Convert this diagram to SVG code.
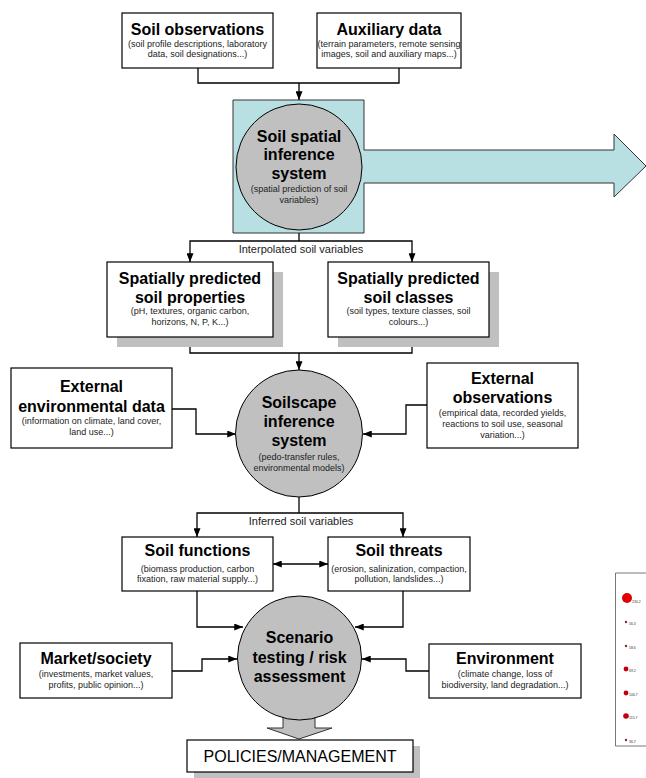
<svg xmlns="http://www.w3.org/2000/svg" width="646" height="778" viewBox="0 0 646 778">
<style>
.box{fill:#fff;stroke:#000;stroke-width:1.2}
.shadow{fill:#c0c0c0}
.circ{fill:#c0c0c0;stroke:#000;stroke-width:1}
.t{font-family:"Liberation Sans",Arial,sans-serif;font-weight:bold;font-size:16px;fill:#000;text-anchor:middle}
.s{font-family:"Liberation Sans",Arial,sans-serif;font-size:9px;fill:#222;text-anchor:middle}
.lbl{font-family:"Liberation Sans",Arial,sans-serif;font-size:11px;fill:#222;text-anchor:middle}
.pol{font-family:"Liberation Sans",Arial,sans-serif;font-size:16px;fill:#000;text-anchor:middle}
.c{fill:none;stroke:#000;stroke-width:1.3}
.leg{font-family:"Liberation Sans",Arial,sans-serif;font-size:3.5px;fill:#333}
</style>
<defs>
<marker id="ah" viewBox="0 0 10 8" refX="10" refY="4" markerWidth="9" markerHeight="7" markerUnits="userSpaceOnUse" orient="auto-start-reverse">
<path d="M0,0 L10,4 L0,8 Z" fill="#000"/>
</marker>
</defs>
<rect width="646" height="778" fill="#fff"/>

<g id="spatial-inference">
<path d="M233,100 H364 V150 H614 V134 L646,166 L614,197 V183 H364 V233 H233 Z" fill="#b8e0e3" stroke="#333" stroke-width="1"/>
<circle class="circ" cx="299" cy="167" r="63"/>
<text class="t" x="299" y="142">Soil spatial</text>
<text class="t" x="299" y="160">inference</text>
<text class="t" x="299" y="179">system</text>
<text class="s" x="299" y="192">(spatial prediction of soil</text>
<text class="s" x="299" y="203">variables)</text>
</g>

<g id="connectors">
<path class="c" d="M198,68 V83 H399 V68"/>
<path class="c" d="M299,83 V100" marker-end="url(#ah)"/>
<path class="c" d="M299,233 V241"/>
<path class="c" d="M190,262 V241 H412 V262" marker-start="url(#ah)" marker-end="url(#ah)"/>
<path class="c" d="M190,337 V353 H412 V337"/>
<path class="c" d="M299,353 V370" marker-end="url(#ah)"/>
<path class="c" d="M172,409 H196 V434 H236" marker-end="url(#ah)"/>
<path class="c" d="M427,405 H406 V434 H363" marker-end="url(#ah)"/>
<path class="c" d="M299,497 V513"/>
<path class="c" d="M197,537 V513 H403 V537" marker-start="url(#ah)" marker-end="url(#ah)"/>
<path class="c" d="M273,564 H328" marker-start="url(#ah)" marker-end="url(#ah)"/>
<path class="c" d="M197,591 V627 H243" marker-end="url(#ah)"/>
<path class="c" d="M403,591 V627 H355" marker-end="url(#ah)"/>
<path class="c" d="M172,671 H202 V659 H237" marker-end="url(#ah)"/>
<path class="c" d="M429,671 H406 V659 H362" marker-end="url(#ah)"/>
<text class="lbl" x="301" y="253">Interpolated soil variables</text>
<text class="lbl" x="301" y="525">Inferred soil variables</text>
</g>

<g id="soil-observations">
<rect class="box" x="122" y="13" width="151" height="55"/>
<text class="t" x="197.5" y="35">Soil observations</text>
<text class="s" x="197.5" y="47">(soil profile descriptions, laboratory</text>
<text class="s" x="197.5" y="57">data, soil designations...)</text>
</g>

<g id="auxiliary-data">
<rect class="box" x="317" y="13" width="144" height="55"/>
<text class="t" x="389" y="35">Auxiliary data</text>
<text class="s" x="389" y="47">(terrain parameters, remote sensing</text>
<text class="s" x="389" y="57">images, soil and auxiliary maps...)</text>
</g>

<g id="soil-properties">
<rect class="shadow" x="117" y="272" width="166" height="75"/>
<rect class="box" x="107" y="262" width="166" height="75"/>
<text class="t" x="190" y="284">Spatially predicted</text>
<text class="t" x="190" y="303">soil properties</text>
<text class="s" x="190" y="314">(pH, textures, organic carbon,</text>
<text class="s" x="190" y="325">horizons, N, P, K...)</text>
</g>

<g id="soil-classes">
<rect class="shadow" x="338" y="272" width="161" height="75"/>
<rect class="box" x="328" y="262" width="161" height="75"/>
<text class="t" x="408.5" y="284">Spatially predicted</text>
<text class="t" x="408.5" y="303">soil classes</text>
<text class="s" x="408.5" y="314">(soil types, texture classes, soil</text>
<text class="s" x="408.5" y="325">colours...)</text>
</g>

<g id="soilscape-inference">
<circle class="circ" cx="299" cy="433.5" r="63.5"/>
<text class="t" x="299" y="408">Soilscape</text>
<text class="t" x="299" y="427">inference</text>
<text class="t" x="299" y="446">system</text>
<text class="s" x="299" y="460">(pedo-transfer rules,</text>
<text class="s" x="299" y="471">environmental models)</text>
</g>

<g id="external-environmental-data">
<rect class="box" x="11" y="368" width="161" height="80"/>
<text class="t" x="91.5" y="392">External</text>
<text class="t" x="91.5" y="412">environmental data</text>
<text class="s" x="91.5" y="424">(information on climate, land cover,</text>
<text class="s" x="91.5" y="435">land use...)</text>
</g>

<g id="external-observations">
<rect class="box" x="427" y="363" width="151" height="85"/>
<text class="t" x="502.5" y="384">External</text>
<text class="t" x="502.5" y="403">observations</text>
<text class="s" x="502.5" y="416">(empirical data, recorded yields,</text>
<text class="s" x="502.5" y="427">reactions to soil use, seasonal</text>
<text class="s" x="502.5" y="438">variation...)</text>
</g>

<g id="soil-functions">
<rect class="box" x="122" y="537" width="151" height="54"/>
<text class="t" x="197.5" y="556">Soil functions</text>
<text class="s" x="197.5" y="572">(biomass production, carbon</text>
<text class="s" x="197.5" y="582">fixation, raw material supply...)</text>
</g>

<g id="soil-threats">
<rect class="box" x="328" y="537" width="142" height="54"/>
<text class="t" x="399" y="556">Soil threats</text>
<text class="s" x="399" y="572">(erosion, salinization, compaction,</text>
<text class="s" x="399" y="582">pollution, landslides...)</text>
</g>

<g id="scenario-testing">
<path d="M283,712 V728 H267 L299,739 L332,728 H315 V712 Z" fill="#c0c0c0" stroke="#333" stroke-width="1"/>
<circle class="circ" cx="299.5" cy="658" r="62"/>
<text class="t" x="299.5" y="643">Scenario</text>
<text class="t" x="299.5" y="663">testing / risk</text>
<text class="t" x="299.5" y="682">assessment</text>
</g>

<g id="market-society">
<rect class="box" x="20" y="643" width="152" height="55"/>
<text class="t" x="96" y="664">Market/society</text>
<text class="s" x="96" y="677">(investments, market values,</text>
<text class="s" x="96" y="688">profits, public opinion...)</text>
</g>

<g id="environment">
<rect class="box" x="429" y="644" width="152" height="54"/>
<text class="t" x="505" y="664">Environment</text>
<text class="s" x="505" y="677">(climate change, loss of</text>
<text class="s" x="505" y="688">biodiversity, land degradation...)</text>
</g>

<g id="policies-management">
<rect class="shadow" x="194" y="746" width="226" height="32"/>
<rect class="box" x="187" y="740" width="226" height="32"/>
<text class="pol" x="300" y="762">POLICIES/MANAGEMENT</text>
</g>

<g id="legend-fragment">
<path d="M652,573 H615.5 V746 H652" fill="#fff" stroke="#555" stroke-width="0.8"/>
<circle cx="627" cy="598" r="5" fill="#e00000"/>
<circle cx="626" cy="622" r="1.2" fill="#7a3030"/>
<circle cx="626" cy="646" r="1.2" fill="#7a3030"/>
<circle cx="626" cy="669" r="2.4" fill="#c00010"/>
<circle cx="626" cy="693" r="2.4" fill="#c00010"/>
<circle cx="626" cy="716" r="2.8" fill="#c00010"/>
<circle cx="626" cy="740" r="1.2" fill="#7a3030"/>
<text class="leg" x="632" y="603">230.2</text>
<text class="leg" x="629" y="625">56.3</text>
<text class="leg" x="629" y="649">58.6</text>
<text class="leg" x="629" y="672">69.2</text>
<text class="leg" x="629" y="696">106.7</text>
<text class="leg" x="629" y="719">115.7</text>
<text class="leg" x="629" y="743">36.7</text>
</g>
</svg>
